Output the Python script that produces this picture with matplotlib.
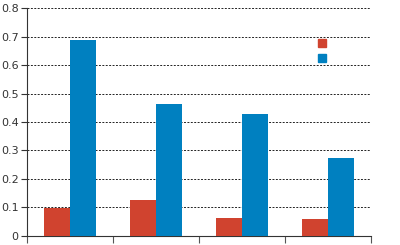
import matplotlib
matplotlib.use("Agg")
import matplotlib.pyplot as plt
from matplotlib.lines import Line2D
import numpy as np

categories = ["A", "B", "C", "D"]
series1 = [0.097, 0.126, 0.063, 0.060]
series2 = [0.689, 0.463, 0.428, 0.274]
yticks = [0, 0.1, 0.2, 0.3, 0.4, 0.5, 0.6, 0.7, 0.8]
ytick_labels = ["0", "0.1", "0.2", "0.3", "0.4", "0.5", "0.6", "0.7", "0.8"]

c1 = "#d0432f"
c2 = "#0080c0"

fig = plt.figure(figsize=(4.0, 2.45), dpi=100)
ax = fig.add_axes([0.0675, 0.037, 0.86, 0.93])

x = np.arange(len(categories))
w = 0.30
ax.bar(x - w / 2, series1, width=w, color=c1, zorder=3)
ax.bar(x + w / 2, series2, width=w, color=c2, zorder=3)

ax.set_xlim(-0.5, len(categories) - 0.5)
ax.set_ylim(0, 0.8)
ax.set_yticks(yticks)
ax.set_yticklabels(ytick_labels, fontsize=8, color="#333333")
ax.set_xticks(np.arange(-0.5, len(categories), 1.0))
ax.set_xticklabels([])
ax.tick_params(axis="x", length=5, width=0.8, color="#555555", direction="out")
ax.tick_params(axis="y", length=4, width=0.8, color="#333333", pad=2)

ax.yaxis.grid(True, linestyle=(0, (2, 1.5)), color="#222222", linewidth=0.7, zorder=0)
ax.set_axisbelow(True)
for s in ["top", "right"]:
    ax.spines[s].set_visible(False)
ax.spines["left"].set_color("#333333")
ax.spines["bottom"].set_color("#333333")
ax.spines["left"].set_linewidth(0.8)
ax.spines["bottom"].set_linewidth(0.8)

handles = [Line2D([], [], marker="s", linestyle="none", markersize=6,
                  markerfacecolor=c, markeredgecolor=c) for c in (c1, c2)]
fig.legend(handles, ["", ""], loc="center", bbox_to_anchor=(322 / 400, 1 - 51 / 245),
           frameon=False, handlelength=0.6, labelspacing=0.45,
           handletextpad=0, borderpad=0, fontsize=8)

fig.savefig("out.png", dpi=100)
